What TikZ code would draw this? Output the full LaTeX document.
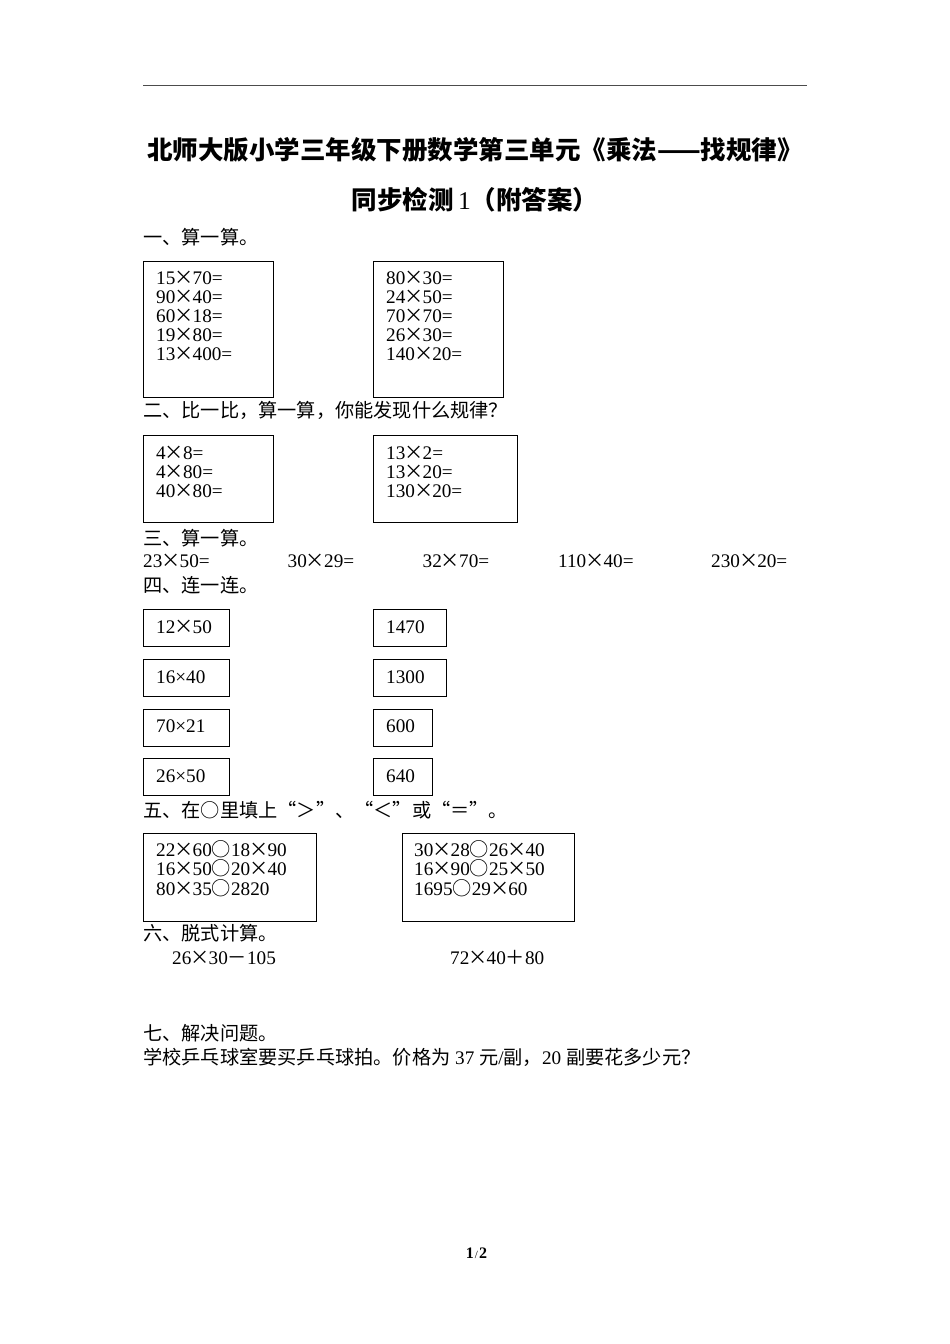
\documentclass[tikz,border=0pt]{standalone}
\usepackage{fontspec}
\setmainfont{Liberation Serif}
\newfontfamily\cjk{Noto Sans CJK SC}
\newfontfamily\cjkfw[CharacterWidth=Full]{Noto Sans CJK SC}
\usetikzlibrary{positioning}
\newcommand{\tm}{\makebox[0.9em]{\cjk ×}}
\newcommand{\oo}{{\cjk ○}}
\newcommand{\ws}{\hspace{0.25em}}

\begin{document}
\begin{tikzpicture}[x=1pt, y=-1pt,
  txt/.style = {anchor=base west, inner sep=0pt, font=\fontsize{19.2}{19.2}\selectfont},
  head/.style = {txt, font=\cjk\fontsize{19.2}{19.2}\selectfont},
  ttl/.style = {anchor=base, inner sep=0pt, font=\cjk\bfseries\fontsize{25.5}{25.5}\selectfont},
  frame/.style = {draw, line width=1.1pt, anchor=north west, inner sep=0pt}]
\useasboundingbox[fill=white] (0,0) rectangle (950,1344);

% top rule and title
\coordinate (ruleL) at (143,85.7);
\coordinate (ruleR) at (807,85.7);
\draw[line width=1.4pt, black!70] (ruleL) -- (ruleR);
\node[ttl] (title1) at (475,159.5) {北师大版小学三年级下册数学第三单元《乘法——找规律》};
\node[ttl] (title2) at (475,209.5) {同步检测\,{\normalfont\mdseries 1}（附答案）};

% part one
\node[head] (sec1) at (143,244) {一、算一算。};
\node[frame, minimum width=130pt, minimum height=136pt] (boxA) at (143,261) {};
\node[frame, minimum width=130pt, minimum height=136pt] (boxB) at (373,261) {};
\node[txt] (a1) at (156,284) {15\tm70=};
\node[txt] (a2) at (156,303.2) {90\tm40=};
\node[txt] (a3) at (156,322.3) {60\tm18=};
\node[txt] (a4) at (156,341.5) {19\tm80=};
\node[txt] (a5) at (156,360.6) {13\tm400=};
\node[txt] (b1) at (386,284) {80\tm30=};
\node[txt] (b2) at (386,303.2) {24\tm50=};
\node[txt] (b3) at (386,322.3) {70\tm70=};
\node[txt] (b4) at (386,341.5) {26\tm30=};
\node[txt] (b5) at (386,360.6) {140\tm20=};

% part two
\node[head] (sec2) at (143,417.3) {二、比一比，算一算，你能发现什么规律？};
\node[frame, minimum width=130pt, minimum height=87pt] (boxC) at (143,435) {};
\node[frame, minimum width=144pt, minimum height=87pt] (boxD) at (373,435) {};
\node[txt] (c1) at (156,459) {4\tm8=};
\node[txt] (c2) at (156,478) {4\tm80=};
\node[txt] (c3) at (156,497) {40\tm80=};
\node[txt] (d1) at (386,459) {13\tm2=};
\node[txt] (d2) at (386,478) {13\tm20=};
\node[txt] (d3) at (386,497) {130\tm20=};

% part three
\node[head] (sec3) at (143,545.6) {三、算一算。};
\node[txt] (e1) at (143,567.2) {23\tm50=};
\node[txt] (e2) at (287.5,567.2) {30\tm29=};
\node[txt] (e3) at (422.5,567.2) {32\tm70=};
\node[txt] (e4) at (558,567.2) {110\tm40=};
\node[txt] (e5) at (711,567.2) {230\tm20=};

% part four
\node[head] (sec4) at (143,592.3) {四、连一连。};
\node[frame, minimum width=86pt, minimum height=37pt] (q1) at (143,609.3) {};
\node[frame, minimum width=86pt, minimum height=37pt] (q2) at (143,659) {};
\node[frame, minimum width=86pt, minimum height=37pt] (q3) at (143,708.7) {};
\node[frame, minimum width=86pt, minimum height=37pt] (q4) at (143,758.3) {};
\node[frame, minimum width=73pt, minimum height=37pt] (r1) at (373,609.3) {};
\node[frame, minimum width=73pt, minimum height=37pt] (r2) at (373,659) {};
\node[frame, minimum width=59pt, minimum height=37pt] (r3) at (373,708.7) {};
\node[frame, minimum width=59pt, minimum height=37pt] (r4) at (373,758.3) {};
\node[txt] (q1t) at (156,633.5) {12\tm50};
\node[txt] (q2t) at (156,683.2) {16×40};
\node[txt] (q3t) at (156,732.9) {70×21};
\node[txt] (q4t) at (156,782.6) {26×50};
\node[txt] (r1t) at (386,633.5) {1470};
\node[txt] (r2t) at (386,683.2) {1300};
\node[txt] (r3t) at (386,732.9) {600};
\node[txt] (r4t) at (386,782.6) {640};

% part five
\node[head, font=\cjkfw\fontsize{19.2}{19.2}\selectfont] (sec5) at (143,817.3) {五、在○里填上“＞”、“＜”或“＝”。};
\node[frame, minimum width=172.5pt, minimum height=87.7pt] (boxE) at (143.3,833.3) {};
\node[frame, minimum width=172.6pt, minimum height=87.7pt] (boxF) at (401.7,833.3) {};
\node[txt] (f1) at (156,856.6) {22\tm60\oo18\tm90};
\node[txt] (f2) at (156,875.8) {16\tm50\oo20\tm40};
\node[txt] (f3) at (156,895) {80\tm35\oo2820};
\node[txt] (g1) at (414,856.6) {30\tm28\oo26\tm40};
\node[txt] (g2) at (414,875.8) {16\tm90\oo25\tm50};
\node[txt] (g3) at (414,895) {1695\oo29\tm60};

% part six
\node[head] (sec6) at (143,940.6) {六、脱式计算。};
\node[txt] (h1) at (172,964.8) {26\tm30{\cjk －}105};
\node[txt] (h2) at (450,964.8) {72\tm40{\cjk ＋}80};

% part seven
\node[head] (sec7) at (143,1040.6) {七、解决问题。};
\node[txt] (prob) at (143,1064) {{\cjk 学校乒乓球室要买乒乓球拍。价格为}\ws 37\ws{\cjk 元}/{\cjk 副，}20\ws{\cjk 副要花多少元？}};

% page number
\node[anchor=base, inner sep=0pt, font=\fontsize{16}{16}\selectfont] (page) at (476.5,1258.6)
  {{\bfseries 1}\kern1pt{\fontsize{11}{11}\selectfont /}\kern1pt{\bfseries 2}};
\end{tikzpicture}
\end{document}
